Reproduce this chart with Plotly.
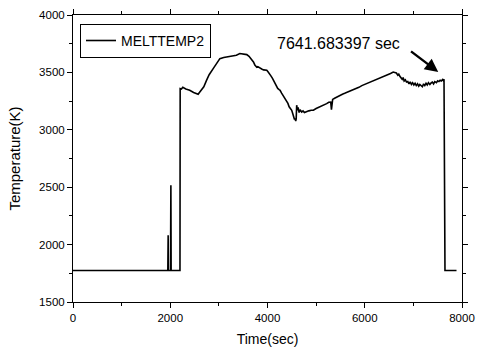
import plotly.graph_objects as go

# MELTTEMP2 history: time (s) and melt temperature (K), ten samples per row
time_s = [
    0, 1950, 1957, 1960, 2005, 2013, 2018, 2200, 2204, 2230,
    2258, 2320, 2400, 2480, 2540, 2574, 2600, 2643, 2690, 2746,
    2800, 2883, 2950, 3020, 3100, 3180, 3292, 3360, 3430, 3500,
    3574, 3620, 3660, 3711, 3740, 3780, 3800, 3848, 3880, 3920,
    3985, 4010, 4040, 4070, 4100, 4122, 4150, 4180, 4210, 4240,
    4259, 4290, 4320, 4350, 4380, 4397, 4420, 4445, 4470, 4498,
    4520, 4540, 4555, 4567, 4580, 4590, 4600, 4615, 4630, 4650,
    4670, 4703, 4730, 4760, 4800, 4850, 4900, 4944, 5000, 5060,
    5120, 5170, 5216, 5260, 5300, 5315, 5325, 5340, 5380, 5421,
    5480, 5540, 5600, 5660, 5720, 5764, 5820, 5880, 5940, 6000,
    6060, 6106, 6160, 6220, 6280, 6330, 6380, 6430, 6480, 6530,
    6585, 6620, 6650, 6680, 6700, 6722, 6745, 6770, 6790, 6810,
    6835, 6859, 6885, 6910, 6935, 6960, 6985, 7010, 7035, 7060,
    7085, 7110, 7133, 7160, 7185, 7210, 7235, 7260, 7285, 7310,
    7339, 7365, 7390, 7415, 7440, 7475, 7500, 7525, 7550, 7575,
    7600, 7613, 7630, 7650, 7887,
]
temp_k = [
    1775, 1775, 2081, 1775, 1775, 2517, 1775, 1775, 3359, 3355,
    3370, 3355, 3345, 3325, 3315, 3310, 3325, 3350, 3375, 3431,
    3480, 3533, 3580, 3620, 3630, 3635, 3640, 3650, 3664, 3660,
    3655, 3640, 3620, 3591, 3565, 3545, 3550, 3533, 3530, 3522,
    3518, 3505, 3490, 3470, 3450, 3431, 3410, 3385, 3360, 3350,
    3344, 3320, 3300, 3280, 3265, 3257, 3230, 3200, 3185, 3170,
    3140, 3110, 3090, 3100, 3075, 3095, 3214, 3170, 3195, 3150,
    3175, 3155, 3165, 3150, 3160, 3165, 3170, 3170, 3185, 3195,
    3210, 3220, 3228, 3240, 3242, 3176, 3245, 3265, 3275, 3286,
    3300, 3310, 3320, 3330, 3338, 3344, 3360, 3370, 3385, 3395,
    3405, 3416, 3425, 3435, 3442, 3450, 3460, 3470, 3480, 3490,
    3503, 3500, 3495, 3475, 3485, 3466, 3450, 3440, 3455, 3425,
    3435, 3416, 3420, 3400, 3418, 3395, 3410, 3390, 3405, 3385,
    3400, 3380, 3395, 3388, 3375, 3400, 3385, 3405, 3390, 3410,
    3395, 3408, 3415, 3400, 3420, 3410, 3426, 3420, 3432, 3425,
    3438, 3430, 3440, 1775, 1775,
]

x_ticks = [0, 2000, 4000, 6000, 8000]
y_ticks = [1500, 2000, 2500, 3000, 3500, 4000]
end_time_label = "7641.683397 sec"

FONT = "Liberation Sans, Arial, sans-serif"

fig = go.Figure()
fig.add_trace(go.Scatter(
    x=time_s, y=temp_k, mode="lines", name="MELTTEMP2",
    line=dict(color="black", width=1.6),
))

axis_common = dict(
    showgrid=False, zeroline=False, showline=True, linecolor="black",
    linewidth=1, mirror="allticks", ticks="outside", ticklen=5,
    tickcolor="black", tickwidth=1, automargin=False,
    tickfont=dict(family=FONT, size=11.5, color="black"),
)

fig.update_xaxes(
    range=[0, 8000], tickvals=x_ticks, ticktext=[str(v) for v in x_ticks],
    title=dict(text="Time(sec)", font=dict(family=FONT, size=14, color="black"),
               standoff=11),
    minor=dict(dtick=1000, ticks="outside", ticklen=3, tickcolor="black"),
    **axis_common,
)
fig.update_yaxes(
    range=[1500, 4000], tickvals=y_ticks, ticktext=[str(v) for v in y_ticks],
    title=dict(text="Temperature(K)", font=dict(family=FONT, size=15, color="black"),
               standoff=14),
    minor=dict(dtick=250, ticks="outside", ticklen=3, tickcolor="black"),
    **axis_common,
)

fig.add_annotation(
    x=7511, y=3504, xref="x", yref="y",
    ax=6921, ay=3693, axref="x", ayref="y",
    showarrow=True, arrowhead=2, arrowsize=1.1, arrowwidth=2.4,
    arrowcolor="black", text="",
)
fig.add_annotation(
    x=5457, y=3751, xref="x", yref="y", text=end_time_label,
    showarrow=False,
    font=dict(family=FONT, size=16, color="black"),
)

fig.update_layout(
    width=477, height=349,
    margin=dict(l=73, r=15, t=15, b=47),
    paper_bgcolor="white", plot_bgcolor="white",
    showlegend=True,
    legend=dict(
        x=0.018, y=0.969, xanchor="left", yanchor="top",
        bgcolor="white", bordercolor="black", borderwidth=1,
        font=dict(family=FONT, size=14, color="black"),
        tracegroupgap=0, itemwidth=30,
    ),
)

fig.write_html("out.html")
